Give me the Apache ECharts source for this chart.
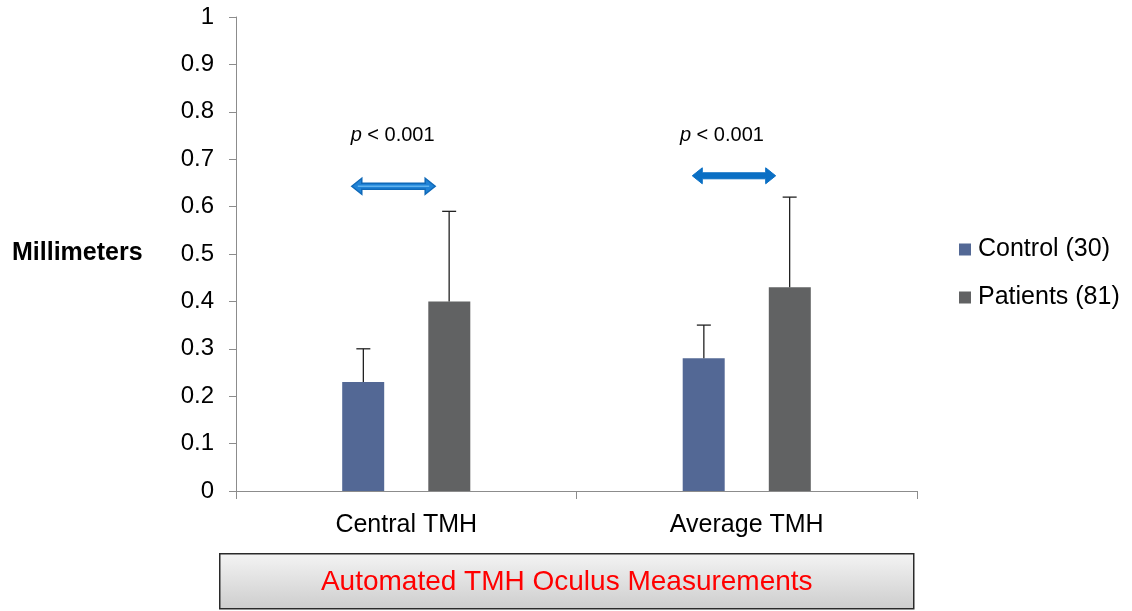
<!DOCTYPE html>
<html>
<head>
<meta charset="utf-8">
<script src="https://cdn.jsdelivr.net/npm/echarts@6/dist/echarts.min.js"></script>
<style>
  html, body { margin: 0; padding: 0; background: #fff; }
  #chart { width: 1132px; height: 611px; }
</style>
</head>
<body>
<div id="chart"></div>
<script>
const categories = ['Central TMH', 'Average TMH']
const seriesNames = ['Control (30)', 'Patients (81)']
const controlMean = [0.23, 0.28]
const controlUpper = [0.30, 0.35]
const patientMean = [0.40, 0.43]
const patientUpper = [0.59, 0.62]
const arrowLevel = [0.643, 0.665]
const pLabelLevel = [0.751, 0.751]
const pLabels = ['< 0.001', '< 0.001']

const FONT = '"Liberation Sans", Arial, sans-serif'
const colors = ['#536895', '#616263']

const chart = echarts.init(document.getElementById('chart'), null, { renderer: 'canvas' })

// error bar (upper whisker only), dx = offset as fraction of band
function errorBar (dx) {
  return function (params, api) {
    const cat = api.value(0)
    const base = api.coord([cat, api.value(1)])
    const top = api.coord([cat, api.value(2)])
    const band = api.size([1, 0])[0]
    const x = base[0] + dx * band
    const cap = 7
    const style = { stroke: '#222', lineWidth: 1.3 }
    return {
      type: 'group',
      children: [
        { type: 'line', shape: { x1: x, y1: base[1], x2: x, y2: top[1] }, style },
        { type: 'line', shape: { x1: x - cap, y1: top[1], x2: x + cap, y2: top[1] }, style }
      ]
    }
  }
}

function arrowPoints (x0, x1, y) {
  const h = 3, head = 8, hl = 10
  return [
    [x0, y], [x0 + hl, y - head], [x0 + hl, y - h], [x1 - hl, y - h],
    [x1 - hl, y - head], [x1, y], [x1 - hl, y + head], [x1 - hl, y + h],
    [x0 + hl, y + h], [x0 + hl, y + head]
  ]
}

const option = {
  animation: false,
  textStyle: { fontFamily: FONT },
  grid: { left: 236, right: 215, top: 17, bottom: 120 },
  legend: {
    orient: 'vertical',
    left: 959,
    top: 237,
    padding: 0,
    itemWidth: 12,
    itemHeight: 12,
    itemGap: 23,
    icon: 'rect',
    data: seriesNames,
    textStyle: { fontSize: 25, color: '#000', fontFamily: FONT, padding: [0, 0, 0, 2] }
  },
  xAxis: {
    type: 'category',
    data: categories,
    axisLine: { lineStyle: { color: '#8c8c8c', width: 1 } },
    axisTick: { show: true, length: 8, lineStyle: { color: '#8c8c8c' } },
    axisLabel: { fontSize: 25, color: '#000', margin: 22, fontFamily: FONT }
  },
  yAxis: {
    type: 'value',
    min: 0,
    max: 1,
    interval: 0.1,
    splitLine: { show: false },
    axisLine: { show: true, lineStyle: { color: '#8c8c8c', width: 1 } },
    axisTick: { show: true, length: 7, lineStyle: { color: '#8c8c8c' } },
    axisLabel: {
      fontSize: 24, color: '#000', margin: 22, fontFamily: FONT,
      formatter: v => (Math.round(v * 10) / 10).toString()
    }
  },
  series: [
    {
      name: seriesNames[0],
      type: 'bar',
      data: controlMean,
      barWidth: 42,
      barGap: '105%',
      itemStyle: { color: colors[0] }
    },
    {
      name: seriesNames[1],
      type: 'bar',
      data: patientMean,
      barWidth: 42,
      itemStyle: { color: colors[1] }
    },
    {
      type: 'custom',
      renderItem: errorBar(-0.126),
      data: categories.map((c, i) => [i, controlMean[i], controlUpper[i]]),
      z: 5
    },
    {
      type: 'custom',
      renderItem: errorBar(0.126),
      data: categories.map((c, i) => [i, patientMean[i], patientUpper[i]]),
      z: 5
    },
    {
      // significance arrows
      type: 'custom',
      renderItem: function (params, api) {
        const i = params.dataIndex
        const p = api.coord([api.value(0), api.value(1)])
        const band = api.size([1, 0])[0]
        const x0 = p[0] - 0.16 * band
        const x1 = p[0] + 0.085 * band
        const pts = arrowPoints(x0, x1, p[1])
        if (i === 0) {
          return {
            type: 'group',
            children: [
              { type: 'polygon', shape: { points: pts }, style: { fill: '#1f82d6', stroke: '#0f69b8', lineWidth: 1.5 } },
              { type: 'line', shape: { x1: x0 + 6, y1: p[1], x2: x1 - 6, y2: p[1] }, style: { stroke: '#5fb2ee', lineWidth: 1.5 } }
            ]
          }
        }
        return { type: 'polygon', shape: { points: pts }, style: { fill: '#0a6fc4', stroke: '#0a6fc4', lineWidth: 1 } }
      },
      data: categories.map((c, i) => [i, arrowLevel[i]]),
      z: 6
    },
    {
      // p-value labels
      type: 'custom',
      renderItem: function (params, api) {
        const i = params.dataIndex
        const p = api.coord([api.value(0), api.value(1)])
        const band = api.size([1, 0])[0]
        const dx = i === 0 ? -0.04 : -0.073
        return {
          type: 'text',
          x: p[0] + dx * band,
          y: p[1],
          style: {
            text: '{i|p} ' + pLabels[i],
            fill: '#000',
            fontSize: 20,
            fontFamily: FONT,
            align: 'center',
            verticalAlign: 'middle',
            rich: { i: { fontStyle: 'italic', fontSize: 20, fontFamily: FONT, fill: '#000' } }
          }
        }
      },
      data: categories.map((c, i) => [i, pLabelLevel[i]]),
      z: 6
    }
  ],
  graphic: [
    {
      type: 'text',
      left: 12,
      top: 241,
      style: { text: 'Millimeters', fontSize: 25, fontWeight: 'bold', fill: '#000', fontFamily: FONT }
    },
    {
      type: 'group',
      left: 219,
      top: 553,
      children: [
        {
          type: 'rect',
          shape: { x: 0, y: 0, width: 694, height: 55 },
          style: {
            fill: new echarts.graphic.LinearGradient(0, 0, 0, 1, [
              { offset: 0, color: '#f4f4f4' },
              { offset: 1, color: '#cdcdcd' }
            ]),
            stroke: '#2a2a2a',
            lineWidth: 1.5
          }
        },
        {
          type: 'text',
          x: 347,
          y: 29,
          style: {
            text: 'Automated TMH Oculus Measurements',
            fontSize: 28,
            fill: '#ff0000',
            fontFamily: FONT,
            align: 'center',
            verticalAlign: 'middle'
          }
        }
      ]
    }
  ]
}

chart.setOption(option)
</script>
</body>
</html>
